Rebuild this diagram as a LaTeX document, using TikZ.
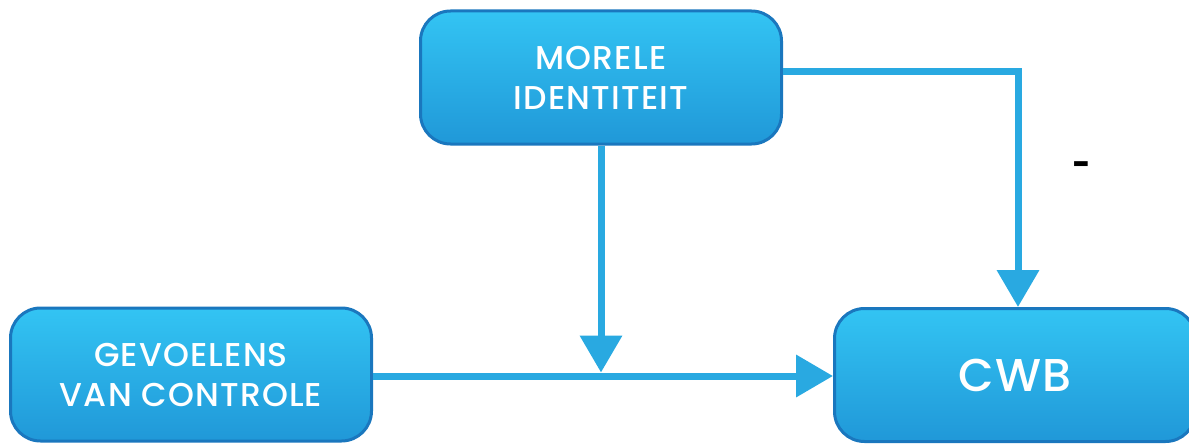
\documentclass[tikz,border=0pt]{standalone}
\usepackage{fontspec}
\setmainfont{Poppins}[UprightFont=* Medium, LetterSpace=3.5]
\usetikzlibrary{arrows.meta}
\definecolor{lineblue}{HTML}{29A9E1}
\definecolor{boxtop}{HTML}{33C4F3}
\definecolor{boxbot}{HTML}{2098D8}
\definecolor{boxborder}{HTML}{1A77BE}
\tikzset{
  box/.style={draw=boxborder, line width=3pt, rounded corners=30pt,
    top color=boxtop, bottom color=boxbot, text=white,
    minimum width=361pt, minimum height=133pt, align=center,
    inner sep=0pt, font=\fontsize{33}{40}\selectfont},
  conn/.style={draw=lineblue, line width=7pt,
    -{Triangle[width=41pt,length=37pt]}}
}
\begin{document}
\begin{tikzpicture}[x=1pt,y=-1pt]
\useasboundingbox (0,0) rectangle (1189,444);
\clip (0,0) rectangle (1189,444);
\node[box] (mor) at (601,77.5) {MORELE\\IDENTITEIT};
\node[box] (gev) at (191,374.5) {GEVOELENS\\VAN CONTROLE};
\node[box, font=\fontsize{46}{50}\selectfont] (cwb) at (1015,375) {CWB};
\coordinate (mid) at (601,372.5);
\coordinate (bend) at (1018,72);
\draw[conn] (mor.south -| mid) -- (mid);
\draw[conn] (mor.east |- bend) -- (bend) -- (cwb.north -| bend);
\draw[conn] (gev.east |- 0,376) -- (cwb.west |- 0,376);
\node[font=\fontsize{30}{30}\selectfont\bfseries] (minus) at (1082,168) {-};
\end{tikzpicture}
\end{document}
